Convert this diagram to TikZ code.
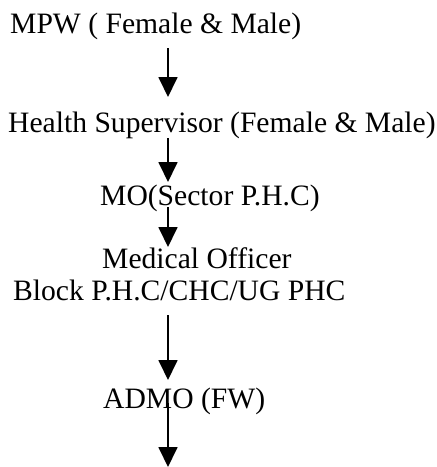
\documentclass[tikz,border=0pt]{standalone}
\usepackage{fontspec}
\setmainfont{Liberation Serif}
\usetikzlibrary{arrows.meta}
\begin{document}
\begin{tikzpicture}[x=1pt,y=-1pt,
  lbl/.style={anchor=base west,inner sep=0pt,font=\fontsize{29.6}{34}\selectfont},
  arr/.style={line width=1.8pt,-{Triangle[length=20pt,width=19pt]}}]
\useasboundingbox (0,0) rectangle (437,467);
% hierarchy levels
\node[lbl] (mpw)  at (10,33)  {MPW ( Female \& Male)};
\node[lbl] (hs)   at (8,132)  {Health Supervisor (Female \& Male)};
\node[lbl] (mo)   at (100,205) {MO(Sector P.H.C)};
\node[lbl] (med)  at (102,268) {Medical Officer};
\node[lbl] (blk)  at (13,300) {Block P.H.C/CHC/UG PHC};
\node[lbl] (admo) at (103,408) {ADMO (FW)};
% arrow end points
\coordinate (a1s) at (168,48);  \coordinate (a1e) at (168,97);
\coordinate (a2s) at (168,138); \coordinate (a2e) at (168,182);
\coordinate (a3s) at (168,207); \coordinate (a3e) at (168,247);
\coordinate (a4s) at (168,315); \coordinate (a4e) at (168,380);
\coordinate (a5s) at (168,403); \coordinate (a5e) at (168,467);
\draw[arr] (a1s) -- (a1e);
\draw[arr] (a2s) -- (a2e);
\draw[arr] (a3s) -- (a3e);
\draw[arr] (a4s) -- (a4e);
\draw[arr] (a5s) -- (a5e);
\end{tikzpicture}
\end{document}
